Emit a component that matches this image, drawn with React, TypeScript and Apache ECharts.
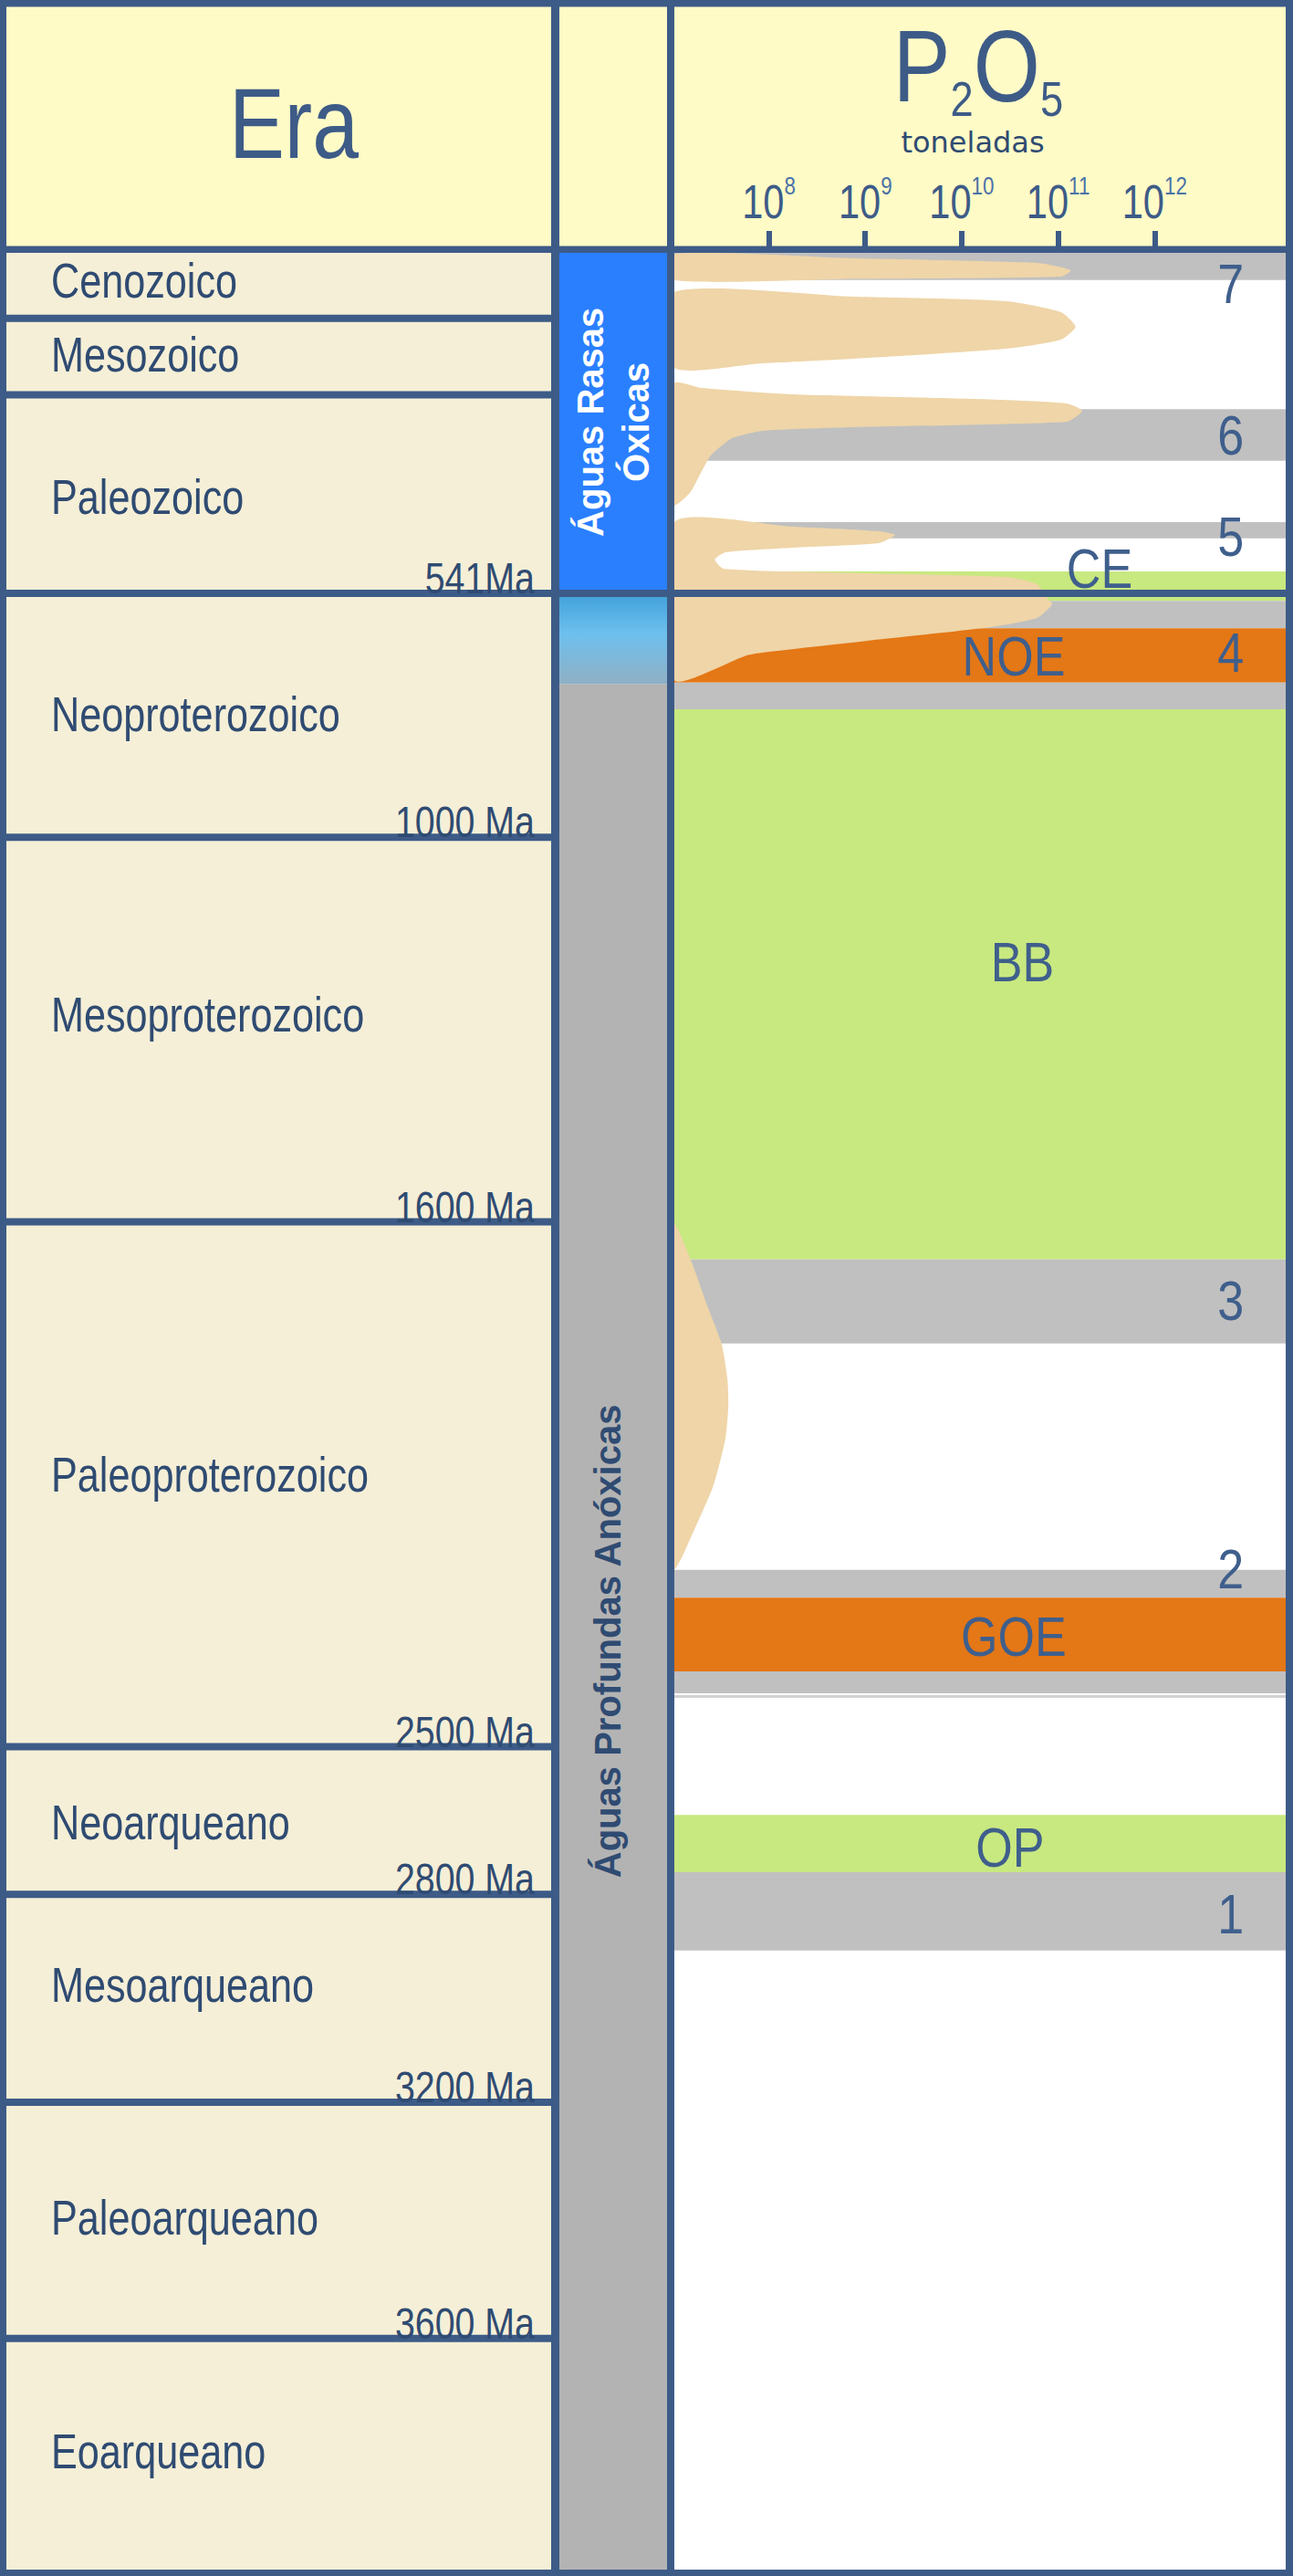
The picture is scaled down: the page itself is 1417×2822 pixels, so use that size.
import React, { useEffect, useRef } from 'react';
import * as echarts from 'echarts';

// ---------------- DATA ----------------
// Eras (top = youngest). Bases are positions on the chart's schematic time scale (0 = today, 4000 = bottom).
const eraNames = ['Cenozoico', 'Mesozoico', 'Paleozoico', 'Neoproterozoico', 'Mesoproterozoico', 'Paleoproterozoico', 'Neoarqueano', 'Mesoarqueano', 'Paleoarqueano', 'Eoarqueano'];
const eraAgeLabels = ['', '', '541Ma', '1000 Ma', '1600 Ma', '2500 Ma', '2800 Ma', '3200 Ma', '3600 Ma', ''];
const eraBases = [113, 245, 588, 1009, 1673, 2579, 2834, 3193, 3601, 4000];
// where each era name sits on the same schematic time scale
const eraLabelAt = [47, 175, 421, 797, 1314, 2109, 2709, 2990, 3392, 3795];

// Ocean water column zones (middle column)
const waterZoneNames = ['Águas Rasas\nÓxicas', '', 'Águas Profundas Anóxicas'];
const waterZoneKind = ['oxic', 'transition', 'anoxic'];
const waterZoneStart = [0, 588, 745];
const waterZoneEnd = [588, 745, 4000];
const waterZoneLabelAt = [292, 666, 2397];

// Horizontal bands in the P2O5 column
const bandStart = [0, 270, 465, 550, 601, 648, 742, 788, 1738, 2274, 2322, 2449, 2490, 2697, 2796];
const bandEnd = [47, 359, 493, 601, 648, 742, 788, 1738, 1883, 2322, 2449, 2487, 2495, 2796, 2931];
const bandKind = ['gray', 'gray', 'gray', 'green', 'gray', 'orange', 'gray', 'green', 'gray', 'gray', 'orange', 'gray', 'thin', 'green', 'gray'];

// Band annotations: text, time position, log10(t) position
const bandLabelText = ['7', '6', '5', 'CE', '4', 'NOE', 'BB', '3', '2', 'GOE', 'OP', '1'];
const bandLabelTime = [52, 314, 489, 544, 690, 695, 1223, 1809, 2271, 2388, 2752, 2867];
const bandLabelLogT = [12.79, 12.79, 12.79, 11.43, 12.79, 10.54, 10.63, 12.79, 12.79, 10.54, 10.5, 12.79];

// P2O5 deposit tonnage outlines: [log10(toneladas), time position]
const pulse7 = [[7.02, 1.6], [8.88, 9.5], [10.78, 17.3], [11.13, 29.9], [11.03, 41.0], [8.88, 45.0], [7.02, 47.3]];
const mesozoicPulse = [[7.02, 67.8], [8.88, 75.7], [10.46, 83.5], [11.03, 102.4], [11.18, 127.7], [11.03, 149.7], [10.46, 165.5], [8.88, 182.8], [7.93, 190.7], [7.02, 198.6]];
const paleozoicPulse = [[7.02, 225.4], [7.3, 233.3], [8.25, 244.3], [10.14, 252.2], [11.09, 260.0], [11.25, 272.7], [11.09, 291.6], [8.88, 301.0], [7.93, 307.3], [7.62, 320.0], [7.49, 335.7], [7.39, 351.5], [7.3, 378.3], [7.18, 414.5], [7.02, 435.0]];
const cambrianPulse = [[7.02, 465.0], [8.25, 472.8], [9.14, 480.7], [9.31, 487.0], [9.14, 501.2], [8.25, 509.0], [7.55, 517.0], [7.44, 529.6], [7.53, 545.3], [8.57, 551.6], [10.46, 559.5], [10.78, 572.0], [10.9, 598.9], [10.94, 606.8], [10.78, 630.4], [10.3, 646.2], [9.19, 666.7], [7.93, 690.3], [7.77, 695.0], [7.02, 737.6]];
const paleoproterozoicPulse = [[7.02, 1678.5], [7.19, 1738.4], [7.36, 1817.2], [7.51, 1883.4], [7.57, 1943.3], [7.58, 1990.5], [7.55, 2047.3], [7.43, 2126.1], [7.26, 2192.3], [7.02, 2271.1]];
const p2o5Outlines = [pulse7, mesozoicPulse, paleozoicPulse, cambrianPulse, paleoproterozoicPulse];

const p2o5TickExponents = [8, 9, 10, 11, 12];

// ---------------- STYLE ----------------
const TIME_MAX = 4000;
const LOG_MIN = 7.02;
const LOG_MAX = 13.36;

const LINE = '#3d5b87';
const TEXT = '#2f4b72';
const LABEL = '#3f5f8c';
const HEADER_BG = '#fffbc7';
const ERA_FILL = '#f5efd7';
const BLUE = '#2a7fff';
const MID_GRAY = '#b3b3b3';
const BAND_COLORS: Record<string, string> = { gray: '#c0c0c0', green: '#c8e880', orange: '#e47716', thin: '#d2d2d2' };
const BEIGE = '#efd5a8';
const SANS = "'Liberation Sans', Arial, sans-serif";

export default function App() {
  const ref = useRef<HTMLDivElement>(null);

  useEffect(() => {
    if (!ref.current) return;
    const chart = echarts.init(ref.current, undefined, { renderer: 'svg' });

    const gridTop = 277;
    const gridBottom = 7;

    const option: any = {
      animation: false,
      grid: [
        { left: 7, top: gridTop, width: 597, bottom: gridBottom },
        { left: 613, top: gridTop, width: 118, bottom: gridBottom },
        { left: 739, top: gridTop, width: 670, bottom: gridBottom },
      ],
      xAxis: [
        { gridIndex: 0, type: 'value', min: 0, max: 1, show: false },
        { gridIndex: 1, type: 'value', min: 0, max: 1, show: false },
        {
          gridIndex: 2,
          type: 'value',
          min: LOG_MIN,
          max: LOG_MAX,
          position: 'top',
          z: 6,
          axisLine: { show: false },
          splitLine: { show: false },
          axisTick: { show: true, customValues: p2o5TickExponents, length: 24, lineStyle: { color: LINE, width: 6 } },
          axisLabel: { show: false },
        },
      ],
      yAxis: [0, 1, 2].map((g) => ({ gridIndex: g, type: 'value', inverse: true, min: 0, max: TIME_MAX, show: false })),
      series: [
        // Era column
        {
          type: 'custom',
          xAxisIndex: 0,
          yAxisIndex: 0,
          z: 2,
          data: eraNames.map((_, i) => [i]),
          renderItem: (params: any, api: any) => {
            const i = params.dataIndex;
            const top = i === 0 ? 0 : eraBases[i - 1];
            const p0 = api.coord([0, top]);
            const p1 = api.coord([1, eraBases[i]]);
            const pl = api.coord([0, eraLabelAt[i]]);
            const children: any[] = [
              { type: 'rect', z2: 0, shape: { x: p0[0], y: p0[1], width: p1[0] - p0[0], height: p1[1] - p0[1] }, style: { fill: ERA_FILL } },
              {
                type: 'text', z2: 3, x: pl[0] + 49, y: pl[1], scaleX: 0.8,
                style: { text: eraNames[i], fill: TEXT, font: `54px ${SANS}`, textAlign: 'left', textVerticalAlign: 'middle' },
              },
            ];
            if (eraAgeLabels[i]) {
              children.push({
                type: 'text', z2: 3, x: p1[0] - 18, y: p1[1] - 0.35 * 48, scaleX: 0.82,
                style: { text: eraAgeLabels[i], fill: TEXT, font: `48px ${SANS}`, textAlign: 'right', textVerticalAlign: 'middle' },
              });
            }
            if (i < eraNames.length - 1) {
              children.push({ type: 'line', z2: 2, shape: { x1: p0[0], y1: p1[1], x2: p1[0], y2: p1[1] }, style: { stroke: LINE, lineWidth: 8 } });
            }
            return { type: 'group', children };
          },
        },
        // Water column zones
        {
          type: 'custom',
          xAxisIndex: 1,
          yAxisIndex: 1,
          z: 2,
          data: waterZoneKind.map((_, i) => [i]),
          renderItem: (params: any, api: any) => {
            const i = params.dataIndex;
            const p0 = api.coord([0, waterZoneStart[i]]);
            const p1 = api.coord([1, waterZoneEnd[i]]);
            const kind = waterZoneKind[i];
            let fill: any = MID_GRAY;
            if (kind === 'oxic') fill = BLUE;
            if (kind === 'transition') {
              fill = new echarts.graphic.LinearGradient(0, 0, 0, 1, [
                { offset: 0, color: '#40a0da' },
                { offset: 0.45, color: '#6ec0ee' },
                { offset: 1, color: '#90b0c4' },
              ]);
            }
            const children: any[] = [
              { type: 'rect', z2: 0, shape: { x: p0[0], y: p0[1], width: p1[0] - p0[0], height: p1[1] - p0[1] }, style: { fill } },
            ];
            if (waterZoneNames[i]) {
              const pc = api.coord([0.5, waterZoneLabelAt[i]]);
              children.push({
                type: 'text', z2: 3, x: pc[0] - (kind === 'oxic' ? 0 : 6), y: pc[1], rotation: Math.PI / 2,
                style: {
                  text: waterZoneNames[i], fill: kind === 'oxic' ? '#ffffff' : TEXT,
                  font: `bold 40px ${SANS}`, lineHeight: 50,
                  textAlign: 'center', textVerticalAlign: 'middle',
                },
              });
            }
            if (kind === 'oxic') {
              children.push({ type: 'line', z2: 2, shape: { x1: p0[0], y1: p1[1], x2: p1[0], y2: p1[1] }, style: { stroke: LINE, lineWidth: 8 } });
            }
            return { type: 'group', children };
          },
        },
        // Bands in P2O5 column
        {
          type: 'custom',
          xAxisIndex: 2,
          yAxisIndex: 2,
          z: 1,
          data: bandStart.map((s, i) => [s, bandEnd[i]]),
          renderItem: (params: any, api: any) => {
            const i = params.dataIndex;
            const p0 = api.coord([LOG_MIN, api.value(0)]);
            const p1 = api.coord([LOG_MAX, api.value(1)]);
            return { type: 'rect', shape: { x: p0[0], y: p0[1], width: p1[0] - p0[0], height: p1[1] - p0[1] }, style: { fill: BAND_COLORS[bandKind[i]] } };
          },
        },
        // P2O5 tonnage outlines
        {
          type: 'custom',
          xAxisIndex: 2,
          yAxisIndex: 2,
          z: 2,
          clip: true,
          data: p2o5Outlines.map((_, i) => [i]),
          renderItem: (params: any, api: any) => {
            const pts = p2o5Outlines[params.dataIndex].map((p) => api.coord(p));
            return { type: 'polygon', shape: { points: pts, smooth: 0.2 }, style: { fill: BEIGE } };
          },
        },
        // Band labels
        {
          type: 'custom',
          xAxisIndex: 2,
          yAxisIndex: 2,
          z: 3,
          data: bandLabelText.map((_, i) => [bandLabelLogT[i], bandLabelTime[i]]),
          renderItem: (params: any, api: any) => {
            const i = params.dataIndex;
            const p = api.coord([api.value(0), api.value(1)]);
            return {
              type: 'text', x: p[0], y: p[1], scaleX: 0.84,
              style: { text: bandLabelText[i], fill: LABEL, font: `62px ${SANS}`, textAlign: 'center', textVerticalAlign: 'middle' },
            };
          },
        },
        // Phanerozoic base line across the P2O5 column
        {
          type: 'custom',
          xAxisIndex: 2,
          yAxisIndex: 2,
          z: 4,
          data: [[eraBases[2]]],
          renderItem: (params: any, api: any) => {
            const a = api.coord([LOG_MIN, api.value(0)]);
            const b = api.coord([LOG_MAX, api.value(0)]);
            return { type: 'line', shape: { x1: a[0], y1: a[1], x2: b[0], y2: b[1] }, style: { stroke: LINE, lineWidth: 8 } };
          },
        },
        // P2O5 axis tick labels (10^n), placed above the axis ticks
        {
          type: 'custom',
          xAxisIndex: 2,
          yAxisIndex: 2,
          z: 6,
          clip: false,
          data: p2o5TickExponents.map((v) => [v, 0]),
          renderItem: (params: any, api: any) => {
            const v = api.value(0);
            const p = api.coord([v, api.value(1)]);
            return {
              type: 'text', x: p[0], y: p[1] - 56, scaleX: 0.8,
              style: {
                text: `{b|10}{s|${v}}`, textAlign: 'center', textVerticalAlign: 'middle',
                rich: {
                  b: { fontSize: 52, lineHeight: 60, fontFamily: SANS, fill: LINE },
                  s: { fontSize: 28, lineHeight: 60, fontFamily: SANS, fill: '#4a72a8', padding: [0, 0, 36, 0] },
                },
              },
            };
          },
        },
      ],
      graphic: [
        { type: 'rect', z: 0, shape: { x: 0, y: 0, width: 1417, height: 277 }, style: { fill: HEADER_BG } },
        { type: 'text', z: 5, x: 322, y: 134, scaleX: 0.83, style: { text: 'Era', fill: LINE, font: `110px ${SANS}`, textAlign: 'center', textVerticalAlign: 'middle' } },
        {
          type: 'text', z: 5, x: 1072, y: 72, scaleX: 0.84,
          style: {
            text: '{m|P}{s|2}{m|O}{s|5}', textAlign: 'center', textVerticalAlign: 'middle',
            rich: {
              m: { fontSize: 112, lineHeight: 130, fontFamily: SANS, fill: LINE },
              s: { fontSize: 54, lineHeight: 130, fontFamily: SANS, fill: LINE, padding: [74, 0, 0, 0] },
            },
          },
        },
        { type: 'text', z: 5, x: 1066, y: 156, style: { text: 'toneladas', fill: TEXT, font: `32px 'DejaVu Sans', sans-serif`, textAlign: 'center', textVerticalAlign: 'middle' } },
        // frame lines
        { type: 'rect', z: 10, shape: { x: 0, y: 0, width: 1417, height: 7.5 }, style: { fill: LINE } },
        { type: 'rect', z: 10, shape: { x: 0, y: 2815, width: 1417, height: 7 }, style: { fill: LINE } },
        { type: 'rect', z: 10, shape: { x: 0, y: 0, width: 7, height: 2822 }, style: { fill: LINE } },
        { type: 'rect', z: 10, shape: { x: 1409, y: 0, width: 8, height: 2822 }, style: { fill: LINE } },
        { type: 'rect', z: 10, shape: { x: 0, y: 269.5, width: 1417, height: 7.5 }, style: { fill: LINE } },
        { type: 'rect', z: 10, shape: { x: 604, y: 0, width: 9, height: 2822 }, style: { fill: LINE } },
        { type: 'rect', z: 10, shape: { x: 731, y: 0, width: 8, height: 2822 }, style: { fill: LINE } },
      ],
    };

    chart.setOption(option);
    return () => chart.dispose();
  }, []);

  return <div ref={ref} style={{ position: 'absolute', left: 0, top: 0, width: 1417, height: 2822 }} />;
}
